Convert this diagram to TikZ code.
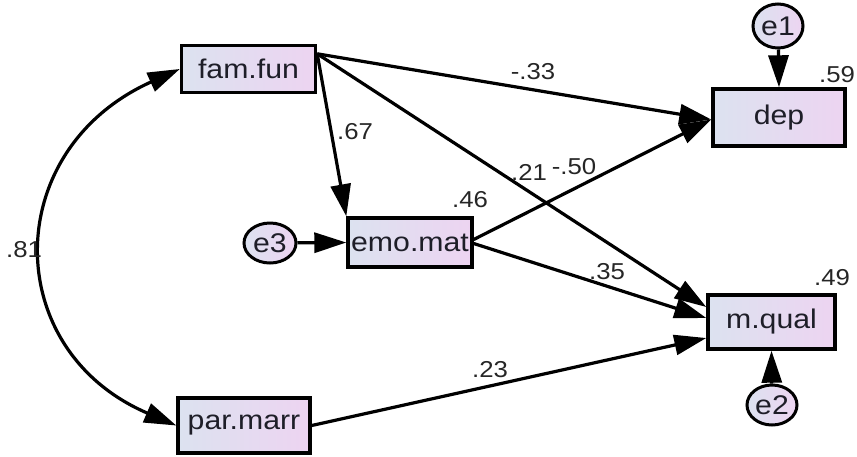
\documentclass[tikz,border=0pt]{standalone}
\usepackage{fontspec}
\newfontfamily\lab[FakeStretch=1.12]{Liberation Sans}
\usetikzlibrary{arrows.meta,shapes.geometric,calc}
\definecolor{boxL}{HTML}{DCE2F0}
\definecolor{boxR}{HTML}{EDD4F1}
\definecolor{txt}{HTML}{1E1E28}
\begin{document}
\begin{tikzpicture}[x=1pt,y=-1pt,
  box/.style={draw=black, line width=3.4pt, left color=boxL, right color=boxR,
    inner sep=0pt, text=txt, font=\lab\fontsize{27}{30}\selectfont},
  err/.style={draw=black, line width=3pt, ellipse, left color=boxL, right color=boxR,
    inner sep=0pt, text=txt, font=\lab\fontsize{27}{28}\selectfont},
  arr/.style={-{Triangle[length=32pt,width=20pt]}, line width=3.2pt},
  dbl/.style={{Triangle[length=32pt,width=20pt]}-{Triangle[length=32pt,width=20pt]}, line width=3.2pt},
  num/.style={font=\lab\fontsize{23}{25}\selectfont, text=black!85, inner sep=0pt}
]
\useasboundingbox (0,0) rectangle (857,456);

% observed variables
\node[box, minimum width=134pt, minimum height=47pt] (fam) at (248.5,69) {fam.fun};
\node[box, minimum width=132pt, minimum height=57pt] (dep) at (779,117.5) {dep};
\node[box, minimum width=124pt, minimum height=49pt] (emo) at (410,242.5) {emo.mat};
\node[box, minimum width=127pt, minimum height=54pt] (mq) at (771.5,322) {m.qual};
\node[box, minimum width=132pt, minimum height=55pt] (par) at (244,425.5) {par.marr};

% error terms
\node[err, minimum width=50pt, minimum height=44pt] (e1) at (778,26) {e1};
\node[err, minimum width=52pt, minimum height=40pt] (e3) at (270,243) {e3};
\node[err, minimum width=50pt, minimum height=40pt] (e2) at (772,405) {e2};

% connector start point
\coordinate (fs) at ($(fam.north east)+(0,10)$);

% paths
\draw[arr] (fs) -- ($(dep.west)+(0,2)$);
\draw[arr] (fs) -- ($(mq.west)+(0,-15)$);
\draw[arr] (fs) -- ($(emo.north west)+(0,0)$);
\draw[arr] ($(emo.east)+(0,-3)$) -- ($(dep.west)+(0,2)$);
\draw[arr] ($(emo.east)+(0,1)$) -- ($(mq.west)+(0,-4)$);
\draw[arr] (par.east) -- ($(mq.west)+(0,16)$);
\draw[arr] (e3) -- (emo.west);
\draw[arr] (e1) -- (dep.north);
\draw[arr] (e2) -- (mq.south);
\draw[dbl] (fam.west) .. controls (0,150) and (0,350) .. (par.west);

% labels
\node[num] (l67) at (355,132) {.67};
\node[num] (l33) at (533,72) {-.33};
\node[num] (l21) at (529,172) {.21};
\node[num] (l50) at (574,167) {-.50};
\node[num] (l46) at (470,200) {.46};
\node[num] (l35) at (607,272) {.35};
\node[num] (l23) at (490,370) {.23};
\node[num] (l81) at (24,250) {.81};
\node[num] (l59) at (837,75) {.59};
\node[num] (l49) at (832,278) {.49};
\end{tikzpicture}
\end{document}
